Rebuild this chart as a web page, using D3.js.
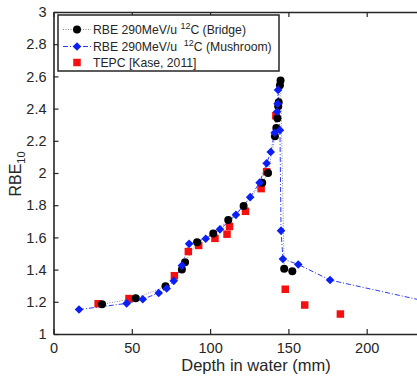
<html><head>
<meta charset="utf-8">
<style>
  body { margin: 0; background: #fff; }
  svg { display: block; font-family: Arial, "Liberation Sans", sans-serif; }
  .tick text { fill: #262626; font-size: 14.5px; }
  .domain, .tick line { stroke: #262626; }
</style>
<script src="https://d3js.org/d3.v7.min.js"></script>
</head>
<body>
<div id="chart"></div>
<script>
// depth (mm), RBE10
const bridge = [
  [31, 1.185], [52.5, 1.222], [71.5, 1.296], [82, 1.40], [84, 1.445], [91.7, 1.57],
  [102, 1.625], [111.6, 1.708], [121.4, 1.795], [133.3, 1.94], [137, 2.0],
  [141.4, 2.228], [142.3, 2.28], [143, 2.34], [143.5, 2.415], [143.8, 2.44],
  [144.6, 2.545], [145, 2.575], [147.3, 1.405], [152.5, 1.39]
];
const mushroom = [
  [16.3, 1.152], [46.7, 1.19], [57, 1.216], [67.2, 1.255], [72.3, 1.283], [76.8, 1.33],
  [82, 1.425], [86.6, 1.56], [97.2, 1.592], [106.3, 1.65], [116.5, 1.74], [125.6, 1.85],
  [131.6, 1.94], [136.1, 2.06], [138.7, 2.13], [141.2, 2.25], [142.8, 2.38],
  [143.1, 2.43], [143.4, 2.516], [144.6, 2.266], [145.3, 1.642], [146.5, 1.466],
  [156.3, 1.432], [176.6, 1.335], [250, 1.177]
];
const tepc = [
  [28.5, 1.188], [48.2, 1.22], [77.2, 1.362], [86.1, 1.512], [92.7, 1.55], [103.1, 1.594],
  [110.8, 1.62], [112.4, 1.668], [122.6, 1.762], [132.6, 1.903], [136.1, 2.008],
  [142, 2.356], [148, 1.278], [160.4, 1.18], [183.2, 1.124]
];
const xTicks = [0, 50, 100, 150, 200];
const yTicks = [1, 1.2, 1.4, 1.6, 1.8, 2, 2.2, 2.4, 2.6, 2.8, 3];
const legendLabels = ["RBE 290MeV/u ", "RBE 290MeV/u\u00a0\u00a0", "TEPC [Kase, 2011]"];

const W = 417, H = 377;
const svg = d3.select("#chart").append("svg").attr("width", W).attr("height", H);

const x = d3.scaleLinear().domain([0, 250]).range([53.5, 445]);
const y = d3.scaleLinear().domain([1, 3]).range([334, 12]);

// axes box (MATLAB style, ticks inside)
const fmt = d => d3.format("")(+d.toFixed(1));
svg.append("g").attr("transform", "translate(0,334)")
  .call(d3.axisBottom(x).tickValues(xTicks).tickSize(-5).tickSizeOuter(0).tickPadding(9).tickFormat(d3.format("d")))
  .call(g => g.select(".domain").attr("stroke-width", 1.6));
svg.append("g").attr("transform", "translate(0,12)")
  .call(d3.axisTop(x).tickValues(xTicks).tickSize(-5).tickSizeOuter(0).tickFormat(""))
  .call(g => g.select(".domain").attr("stroke-width", 1.6));
svg.append("g").attr("transform", "translate(53.5,0)")
  .call(d3.axisLeft(y).tickValues(yTicks).tickSize(-5).tickSizeOuter(0).tickPadding(7).tickFormat(fmt))
  .call(g => g.select(".domain").attr("stroke-width", 1.6));
svg.selectAll(".tick line").attr("stroke-width", 1.2);

// axis labels
svg.append("text").attr("x", 256).attr("y", 371).attr("text-anchor", "middle")
  .attr("font-size", 16.5).attr("fill", "#262626").text("Depth in water (mm)");
const yl = svg.append("text").attr("transform", "translate(21,174) rotate(-90)")
  .attr("text-anchor", "middle").attr("font-size", 16).attr("fill", "#262626");
yl.append("tspan").text("RBE");
yl.append("tspan").attr("font-size", 11).attr("dy", 4).text("10");

const line = d3.line().x(d => x(d[0])).y(d => y(d[1]));
const plot = svg.append("g");

plot.append("path").datum(bridge).attr("d", line).attr("fill", "none")
  .attr("stroke", "#888").attr("stroke-width", 1).attr("stroke-dasharray", "1,1.5");
plot.append("path").datum(mushroom).attr("d", line).attr("fill", "none")
  .attr("stroke", "#2b3cf5").attr("stroke-width", 1).attr("stroke-dasharray", "5,2,1,2");

const sq = 7.5, cr = 4, dm = 4.3;
plot.selectAll("rect.t").data(tepc).join("rect").attr("class", "t")
  .attr("x", d => x(d[0]) - sq / 2).attr("y", d => y(d[1]) - sq / 2)
  .attr("width", sq).attr("height", sq).attr("fill", "#f50f0f");
plot.selectAll("circle.b").data(bridge).join("circle").attr("class", "b")
  .attr("cx", d => x(d[0])).attr("cy", d => y(d[1])).attr("r", cr).attr("fill", "#000");
const diamond = (cx, cy) => `M${cx},${cy - dm}L${cx + dm},${cy}L${cx},${cy + dm}L${cx - dm},${cy}Z`;
plot.selectAll("path.m").data(mushroom).join("path").attr("class", "m")
  .attr("d", d => diamond(x(d[0]), y(d[1]))).attr("fill", "#0a1ef5");

// legend
const lg = svg.append("g");
lg.append("rect").attr("x", 58).attr("y", 15).attr("width", 221).attr("height", 56)
  .attr("fill", "#fff").attr("stroke", "#262626").attr("stroke-width", 1.5);
const rows = [29.5, 46.5, 62.5];
lg.append("line").attr("x1", 63).attr("x2", 91).attr("y1", rows[0]).attr("y2", rows[0])
  .attr("stroke", "#888").attr("stroke-dasharray", "1,1.5");
lg.append("circle").attr("cx", 77).attr("cy", rows[0]).attr("r", cr).attr("fill", "#000");
lg.append("line").attr("x1", 63).attr("x2", 91).attr("y1", rows[1]).attr("y2", rows[1])
  .attr("stroke", "#2b3cf5").attr("stroke-dasharray", "5,2,1,2");
lg.append("path").attr("d", diamond(77, rows[1])).attr("fill", "#0a1ef5");
lg.append("rect").attr("x", 77 - sq / 2).attr("y", rows[2] - sq / 2).attr("width", sq).attr("height", sq)
  .attr("fill", "#f50f0f");
const suffix = ["C (Bridge)", "C (Mushroom)", null];
legendLabels.forEach((t, i) => {
  const tx = lg.append("text").attr("x", 93).attr("y", rows[i]).attr("dy", "0.36em")
    .attr("font-size", 12.2).attr("fill", "#262626");
  tx.append("tspan").text(t);
  if (suffix[i]) {
    tx.append("tspan").attr("font-size", 9).attr("dy", -4.5).text("12");
    tx.append("tspan").attr("dy", 4.5).text(suffix[i]);
  }
});
</script>
</body></html>
